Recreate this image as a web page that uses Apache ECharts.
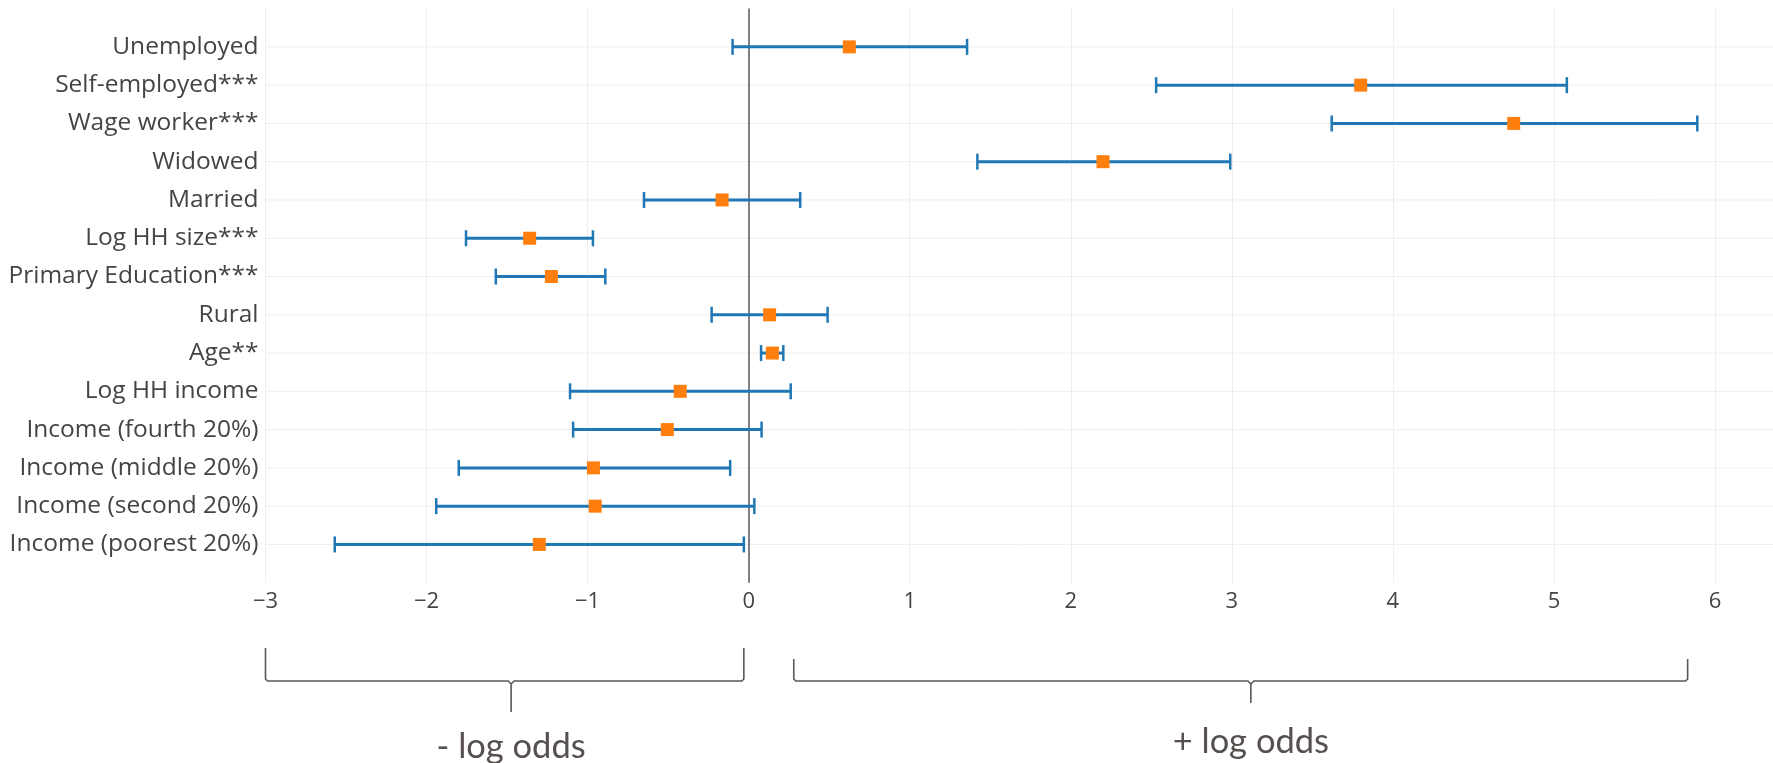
<!DOCTYPE html>
<html>
<head>
<meta charset="utf-8">
<script src="https://cdn.jsdelivr.net/npm/echarts@6/dist/echarts.min.js"></script>
<style>
  html, body { margin: 0; padding: 0; background: #fff; }
  #chart { width: 1773px; height: 763px; }
</style>
</head>
<body>
<div id="chart"></div>
<script>
// ---- data ----
const categories = [
  'Unemployed', 'Self-employed***', 'Wage worker***', 'Widowed', 'Married',
  'Log HH size***', 'Primary Education***', 'Rural', 'Age**', 'Log HH income',
  'Income (fourth 20%)', 'Income (middle 20%)', 'Income (second 20%)', 'Income (poorest 20%)'
];
const estimates = [0.625, 3.80, 4.75, 2.20, -0.165, -1.36, -1.225, 0.13, 0.147, -0.425, -0.505, -0.964, -0.953, -1.30];
const lowerCI   = [-0.10, 2.53, 3.62, 1.42, -0.65, -1.755, -1.57, -0.23, 0.077, -1.109, -1.09, -1.80, -1.94, -2.57];
const upperCI   = [1.356, 5.08, 5.89, 2.99, 0.32, -0.967, -0.89, 0.49, 0.215, 0.261, 0.08, -0.115, 0.035, -0.03];
const xTicks = [-3, -2, -1, 0, 1, 2, 3, 4, 5, 6];
// bracket annotations below the axis (x ranges in data units)
const braceLabels = ['- log odds', '+ log odds'];
const braceFrom   = [-3.0, 0.28];
const braceTo     = [-0.03, 5.83];
const braceMid    = [-1.475, 3.118];

const chart = echarts.init(document.getElementById('chart'), null, { renderer: 'canvas' });

const rows = categories.map((c, i) => [i, lowerCI[i], estimates[i], upperCI[i]]);

const BLUE = '#1f77b4', ORANGE = '#ff7f0e';

const option = {
  animation: false,
  backgroundColor: '#ffffff',
  grid: { left: 265.5, right: 0, top: 8.6, bottom: 180.3, containLabel: false },
  xAxis: {
    type: 'value', min: -3, max: 6.36, interval: 1,
    axisLine: { show: false }, axisTick: { show: false },
    splitLine: { show: true, lineStyle: { color: '#eeeeee', width: 1 } },
    axisLabel: {
      showMaxLabel: false, color: '#444', fontFamily: 'Open Sans', fontSize: 22, margin: 8,
      formatter: v => (xTicks.indexOf(v) >= 0 ? (v < 0 ? '\u2212' + Math.abs(v) : String(v)) : '')
    }
  },
  yAxis: {
    type: 'value', inverse: true, min: -1, max: 14, interval: 1,
    axisLine: { show: false }, axisTick: { show: false }, splitLine: { show: false },
    axisLabel: {
      color: '#444', fontFamily: 'Open Sans', fontSize: 24.5, margin: 7,
      formatter: v => (Number.isInteger(v) && v >= 0 && v < categories.length ? categories[v] : '')
    }
  },
  series: [
    {
      // row gridlines + zero line
      type: 'custom', z: 1, silent: true,
      data: rows,
      encode: { y: 0, x: 1 },
      renderItem: (params, api) => {
        const cs = params.coordSys;
        const y = api.coord([0, api.value(0)])[1];
        return {
          type: 'line',
          shape: { x1: cs.x, y1: y, x2: cs.x + cs.width, y2: y },
          style: { stroke: '#eeeeee', lineWidth: 1 }
        };
      },
      markLine: {
        silent: true, symbol: 'none', label: { show: false },
        lineStyle: { color: '#808080', width: 2, type: 'solid' },
        data: [{ xAxis: 0 }]
      }
    },
    {
      type: 'custom', z: 5,
      data: rows,
      encode: { y: 0, x: [1, 2, 3] },
      renderItem: (params, api) => {
        const i = api.value(0);
        const pLo = api.coord([api.value(1), i]);
        const pEst = api.coord([api.value(2), i]);
        const pHi = api.coord([api.value(3), i]);
        const capH = 8, m = 6.5;
        return {
          type: 'group',
          children: [
            { type: 'line', shape: { x1: pLo[0], y1: pLo[1], x2: pHi[0], y2: pHi[1] },
              style: { stroke: BLUE, lineWidth: 3 } },
            { type: 'line', shape: { x1: pLo[0], y1: pLo[1] - capH, x2: pLo[0], y2: pLo[1] + capH },
              style: { stroke: BLUE, lineWidth: 2.5 } },
            { type: 'line', shape: { x1: pHi[0], y1: pHi[1] - capH, x2: pHi[0], y2: pHi[1] + capH },
              style: { stroke: BLUE, lineWidth: 2.5 } },
            { type: 'rect', shape: { x: pEst[0] - m, y: pEst[1] - m, width: 2 * m, height: 2 * m },
              style: { fill: ORANGE } }
          ]
        };
      }
    }
  ]
};
chart.setOption(option);

// bracket annotations positioned through the x axis
const px = v => chart.convertToPixel({ xAxisIndex: 0 }, v);
const braceTop = [648, 659], braceY = 681, braceTip = [712, 703], textY = [747, 742];
const graphics = [];
const lineStyle = { stroke: '#595959', lineWidth: 1.6, fill: null };
braceLabels.forEach((lab, k) => {
  const x0 = px(braceFrom[k]), x1 = px(braceTo[k]), cx = px(braceMid[k]);
  const t = braceTop[k], h = braceY, b = braceTip[k];
  graphics.push({ type: 'polyline', silent: true, style: lineStyle,
    shape: { points: [[x0, t], [x0, h - 2], [x0 + 2, h], [cx - 3, h], [cx, h + 3], [cx, b]] } });
  graphics.push({ type: 'polyline', silent: true, style: lineStyle,
    shape: { points: [[cx, h + 3], [cx + 3, h], [x1 - 2, h], [x1, h - 2], [x1, t]] } });
  graphics.push({ type: 'text', x: cx, y: textY[k], silent: true,
    style: { text: lab, fill: '#56504f', font: '34.5px Lato', textAlign: 'center', textVerticalAlign: 'middle' } });
});
chart.setOption({ graphic: graphics });
</script>
</body>
</html>
